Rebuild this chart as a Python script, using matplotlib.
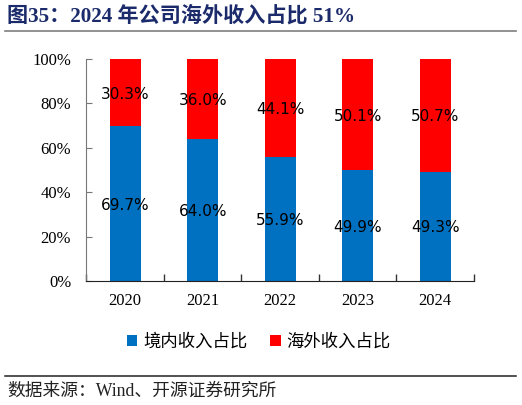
import matplotlib
matplotlib.use("Agg")
import matplotlib.pyplot as plt
from matplotlib.ticker import PercentFormatter, FixedLocator
from matplotlib.patches import Patch
from matplotlib.lines import Line2D

years = ["2020", "2021", "2022", "2023", "2024"]
domestic = [69.7, 64.0, 55.9, 49.9, 49.3]
overseas = [30.3, 36.0, 44.1, 50.1, 50.7]
series_names = ["境内收入占比", "海外收入占比"]
title = "图35：2024 年公司海外收入占比 51%"
source = "数据来源：Wind、开源证券研究所"

blue = "#0070C0"
red = "#FF0000"
cjk = ["Noto Sans CJK SC", "DejaVu Sans"]
serif_cjk = ["Liberation Serif", "Noto Sans CJK SC"]

fig = plt.figure(figsize=(5.22, 4.05), dpi=100)
ax = fig.add_axes([0.1657, 0.3062, 0.9080 - 0.1657, 0.8543 - 0.3062])

x = list(range(len(years)))
w = 0.4
ax.bar(x, domestic, width=w, color=blue, zorder=2)
ax.bar(x, overseas, width=w, bottom=domestic, color=red, zorder=2)

for i in x:
    ax.text(i, domestic[i] / 2, f"{domestic[i]:.1f}%", ha="center", va="center_baseline",
            fontsize=11, family="DejaVu Sans", color="black", zorder=3)
    ax.text(i, domestic[i] + overseas[i] / 2, f"{overseas[i]:.1f}%", ha="center",
            va="center_baseline", fontsize=11, family="DejaVu Sans", color="black", zorder=3)

ax.set_xlim(-0.5, len(years) - 0.5)
ax.set_ylim(0, 100)
ax.set_yticks([0, 20, 40, 60, 80, 100])
ax.yaxis.set_major_formatter(PercentFormatter(decimals=0))
ax.set_xticks(x)
ax.set_xticklabels(years)
ax.xaxis.set_minor_locator(FixedLocator([i - 0.5 for i in range(len(years) + 1)]))

ax.tick_params(axis="x", which="major", length=0, pad=9, labelsize=12)
ax.tick_params(axis="x", which="minor", direction="in", length=5, color="#333333", width=1)
ax.tick_params(axis="y", which="major", direction="in", length=4, pad=11, labelsize=12,
               color="#777777")
for lab in ax.get_xticklabels() + ax.get_yticklabels():
    lab.set_family("Liberation Serif")

ax.spines["top"].set_visible(False)
ax.spines["right"].set_visible(False)
ax.spines["left"].set_color("#777777")
ax.spines["bottom"].set_color("#222222")

handles = [Patch(facecolor=blue, edgecolor="none"), Patch(facecolor=red, edgecolor="none")]
fig.legend(handles, series_names, loc="center", bbox_to_anchor=(0.496, 0.156), ncol=2,
           frameon=False, prop={"family": cjk, "size": 12.5}, handlelength=0.6,
           handleheight=0.6, handletextpad=0.35, columnspacing=1.3)

fig.text(7 / 522, 1 - 16 / 405, title, ha="left", va="center", fontsize=15.2,
         fontweight="bold", color="#1B2A6B", family=serif_cjk)
fig.add_artist(Line2D([5 / 522, 516 / 522], [1 - 31 / 405, 1 - 31 / 405],
                      color="#7F7F7F", lw=1.2, transform=fig.transFigure))
fig.add_artist(Line2D([5 / 522, 516 / 522], [1 - 376 / 405, 1 - 376 / 405],
                      color="#222222", lw=1.1, transform=fig.transFigure))
fig.text(7 / 522, 1 - 391 / 405, source, ha="left", va="center", fontsize=12.8,
         color="#222222", family=serif_cjk)

fig.savefig("out.png", dpi=100)
